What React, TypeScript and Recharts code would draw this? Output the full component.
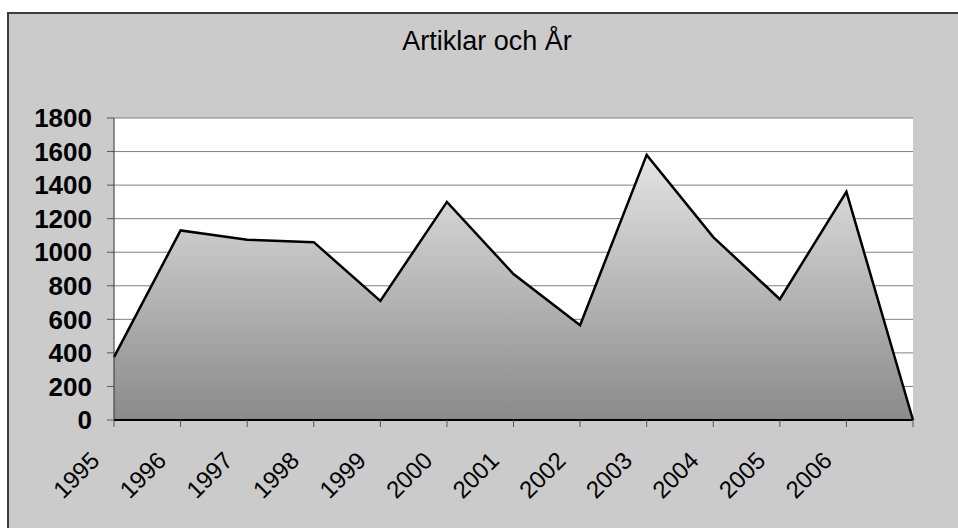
import { AreaChart, Area, XAxis, YAxis, CartesianGrid } from "recharts";

// categories (the last point has no year label in the original)
const years = ["1995", "1996", "1997", "1998", "1999", "2000", "2001", "2002", "2003", "2004", "2005", "2006", ""];
const artiklar = [375, 1130, 1075, 1060, 710, 1300, 870, 565, 1580, 1090, 720, 1360, 0];
const yTicks = [0, 200, 400, 600, 800, 1000, 1200, 1400, 1600, 1800];

const data = years.map((year, i) => ({ year, artiklar: artiklar[i] }));

const FONT = '"Liberation Sans", Arial, sans-serif';

function YearTick(props: any) {
  const { x, y, payload } = props;
  const px = x - 13;
  const py = y + 35;
  return (
    <text
      x={px}
      y={py}
      transform={`rotate(-45, ${px}, ${py})`}
      textAnchor="end"
      fontSize={24}
      fontFamily={FONT}
      fill="#000"
    >
      {payload.value}
    </text>
  );
}

export default function App() {
  return (
    <div style={{ position: "absolute", left: 0, top: 0, width: 958, height: 528, background: "#fff", overflow: "hidden" }}>
      <div
        style={{
          position: "absolute",
          left: 7,
          top: 12,
          width: 960,
          height: 530,
          background: "#cbcbcb",
          borderLeft: "2px solid #3c3c3c",
          borderTop: "2px solid #3c3c3c",
          boxSizing: "border-box",
        }}
      />
      <div
        style={{
          position: "absolute",
          left: 337,
          top: 28,
          width: 300,
          textAlign: "center",
          fontFamily: FONT,
          fontSize: 27,
          lineHeight: "27px",
          color: "#000",
        }}
      >
        Artiklar och År
      </div>
      <div style={{ position: "absolute", left: 0, top: 0 }}>
        <AreaChart width={958} height={528} data={data} margin={{ top: 118, right: 45, bottom: 18, left: 34 }}>
          <defs>
            <linearGradient id="areaFill" x1="0" y1="0" x2="0" y2="1">
              <stop offset="0%" stopColor="#e4e4e4" />
              <stop offset="100%" stopColor="#8a8a8a" />
            </linearGradient>
          </defs>
          <CartesianGrid vertical={false} fill="#ffffff" stroke="#808080" strokeWidth={1} />
          <XAxis
            dataKey="year"
            height={90}
            interval={0}
            tick={<YearTick />}
            tickSize={7}
            tickMargin={0}
            axisLine={{ stroke: "#000", strokeWidth: 2 }}
            tickLine={{ stroke: "#555" }}
          />
          <YAxis
            width={80}
            domain={[0, 1800]}
            ticks={yTicks}
            interval={0}
            tickSize={7}
            tickMargin={15}
            axisLine={{ stroke: "#333", strokeWidth: 1 }}
            tickLine={{ stroke: "#555" }}
            tick={{ fontSize: 26, fontWeight: "bold", fontFamily: FONT, fill: "#000" }}
          />
          <YAxis
            yAxisId="frame"
            orientation="right"
            width={0}
            domain={[0, 1800]}
            tick={false}
            tickLine={false}
            axisLine={{ stroke: "#999", strokeWidth: 2 }}
          />
          <Area
            type="linear"
            dataKey="artiklar"
            stroke="#000"
            strokeWidth={2.5}
            fill="url(#areaFill)"
            fillOpacity={1}
            dot={false}
            activeDot={false}
            isAnimationActive={false}
          />
        </AreaChart>
      </div>
    </div>
  );
}
